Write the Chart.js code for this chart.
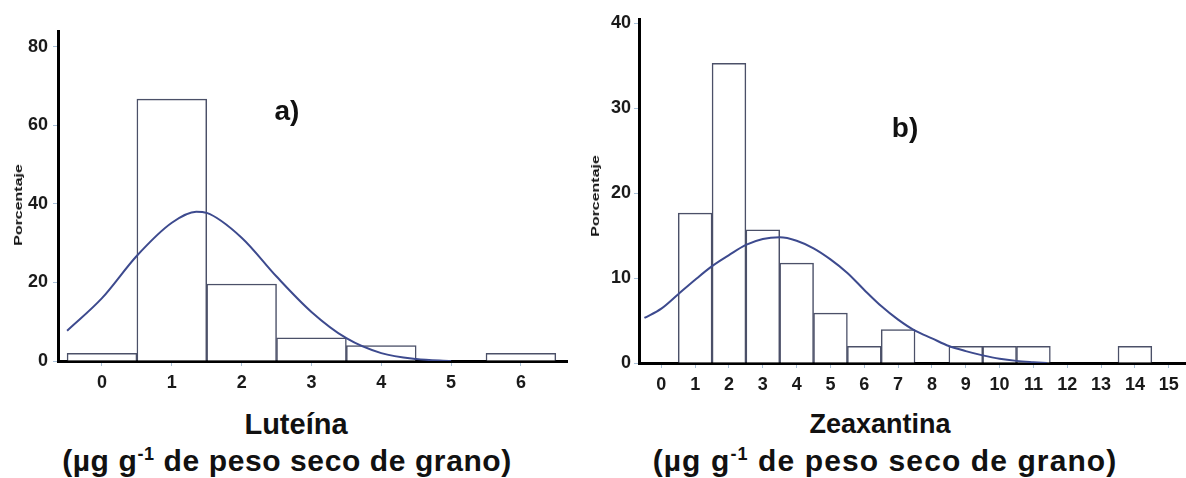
<!DOCTYPE html>
<html lang="es">
<head>
<meta charset="UTF-8">
<title>Luteína y Zeaxantina</title>
<script src="https://cdn.jsdelivr.net/npm/chart.js"></script>
<style>
  body { margin: 0; background: #fff; }
  #wrap { position: relative; width: 1186px; height: 478px; font-family: "Liberation Sans", Arial, sans-serif; color: #111; }
  canvas { position: absolute; top: 0; }
  .lbl { position: absolute; font-weight: bold; white-space: nowrap; transform: translate(-50%, -50%); }
  .ylab { position: absolute; font-weight: bold; font-size: 11px; white-space: nowrap; transform: translate(-50%, -50%) rotate(-90deg) scaleX(1.45); }
  .xt { font-size: 29px; }
  .unit { font-size: 30px; }
  .pn { font-size: 28px; }
</style>
</head>
<body>
<div id="wrap">
  <canvas id="chartA" width="590" height="400" style="left:0"></canvas>
  <canvas id="chartB" width="596" height="400" style="left:590px"></canvas>

  <div class="ylab" style="left:18px; top:205px">Porcentaje</div>
  <div class="ylab" style="left:595px; top:196px">Porcentaje</div>

  <div class="lbl pn" style="left:287px; top:111px">a)</div>
  <div class="lbl pn" style="left:905px; top:128px">b)</div>

  <div class="lbl xt" style="left:296px; top:424px">Luteína</div>
  <div class="lbl unit" style="left:287px; top:461px; letter-spacing:0.6px">(µg g<sup style="font-size:18px">-1</sup> de peso seco de grano)</div>
  <div class="lbl xt" style="left:880px; top:424px; font-size:27px">Zeaxantina</div>
  <div class="lbl unit" style="left:885px; top:461px; letter-spacing:1.1px">(µg g<sup style="font-size:18px">-1</sup> de peso seco de grano)</div>
</div>

<script>
    // a) Luteína: histogram (percent of 51 samples) and fitted normal curve
    var binsA = [0, 1, 2, 3, 4, 5, 6];
    var pctA = [1.96, 66.67, 19.61, 5.88, 3.92, 0, 1.96];
    var curveXA = [-0.5, 0, 0.5, 1, 1.35, 1.5, 2, 2.5, 3, 3.5, 4, 4.5, 5];
    var curveYA = [7.7, 16, 26.8, 35.2, 38, 37.7, 31.4, 21.5, 12.5, 5.8, 2, 0.5, 0];
    var xTicksA = [0, 1, 2, 3, 4, 5, 6];
    var yTicksA = [0, 20, 40, 60, 80];

    // b) Zeaxantina
    var binsB = [1, 2, 3, 4, 5, 6, 7, 9, 10, 11, 14];
    var pctB = [17.65, 35.29, 15.69, 11.76, 5.88, 1.96, 3.92, 1.96, 1.96, 1.96, 1.96];
    var curveXB = [-0.5, 0, 0.5, 1, 1.5, 2, 2.5, 3, 3.5, 4, 4.5, 5, 5.5, 6, 6.5, 7, 7.5, 8, 8.5, 9, 9.5, 10, 10.5, 11, 11.4];
    var curveYB = [5.3, 6.4, 8.1, 9.8, 11.4, 12.7, 13.9, 14.6, 14.8, 14.4, 13.5, 12.2, 10.6, 8.6, 6.7, 5.1, 3.8, 2.9, 2.0, 1.4, 0.9, 0.5, 0.25, 0.1, 0];
    var xTicksB = [0, 1, 2, 3, 4, 5, 6, 7, 8, 9, 10, 11, 12, 13, 14, 15];
    var yTicksB = [0, 10, 20, 30, 40];

    var tickFont = { family: '"Liberation Sans", Arial, sans-serif', size: 18, weight: 'bold' };

    function makeChart(id, bins, pct, cx, cy, xTicks, yTicks, o) {
        var bars = bins.map(function (b, i) { return { x: b, y: pct[i] }; });
        var curve = cx.map(function (x, i) { return { x: x, y: cy[i] }; });
        return new Chart(document.getElementById(id), {
            type: 'bar',
            data: {
                datasets: [{
                    type: 'line',
                    data: curve,
                    borderColor: '#3d4a8e',
                    borderWidth: 2,
                    pointRadius: 0,
                    cubicInterpolationMode: 'monotone',
                    fill: false,
                    order: 0
                }, {
                    data: bars,
                    backgroundColor: '#ffffff',
                    borderColor: '#4b5068',
                    borderWidth: 1.5,
                    barPercentage: 1,
                    categoryPercentage: 1,
                    order: 1
                }]
            },
            options: {
                responsive: false,
                animation: false,
                layout: { padding: o.pad },
                plugins: { legend: { display: false }, tooltip: { enabled: false } },
                scales: {
                    x: {
                        type: 'linear',
                        min: o.xmin,
                        max: o.xmax,
                        offset: false,
                        afterBuildTicks: function (s) { s.ticks = xTicks.map(function (v) { return { value: v }; }); },
                        afterFit: function (s) { s.height = o.xh; },
                        grid: { offset: false, drawOnChartArea: false, tickLength: 5, color: '#a8c0d8' },
                        border: { color: '#000', width: 3 },
                        ticks: { font: tickFont, color: '#1a1a1a', padding: 6, autoSkip: false, maxRotation: 0 }
                    },
                    y: {
                        min: 0,
                        max: o.ymax,
                        afterBuildTicks: function (s) { s.ticks = yTicks.map(function (v) { return { value: v }; }); },
                        afterFit: function (s) { s.width = o.yw; },
                        grid: { drawOnChartArea: false, tickLength: 5, color: '#a8c0d8' },
                        border: { color: '#000', width: 3 },
                        ticks: { font: tickFont, color: '#1a1a1a', padding: o.ypad }
                    }
                }
            }
        });
    }

    makeChart('chartA', binsA, pctA, curveXA, curveYA, xTicksA, yTicksA,
        { pad: { left: 0, right: 23, top: 31, bottom: 0 }, xmin: -0.63, xmax: 6.66, ymax: 84, xh: 39, yw: 58, ypad: 5 });
    makeChart('chartB', binsB, pctB, curveXB, curveYB, xTicksB, yTicksB,
        { pad: { left: 0, right: 0, top: 19, bottom: 0 }, xmin: -0.66, xmax: 15.51, ymax: 40.5, xh: 37, yw: 49, ypad: 3 });
</script>
</body>
</html>
